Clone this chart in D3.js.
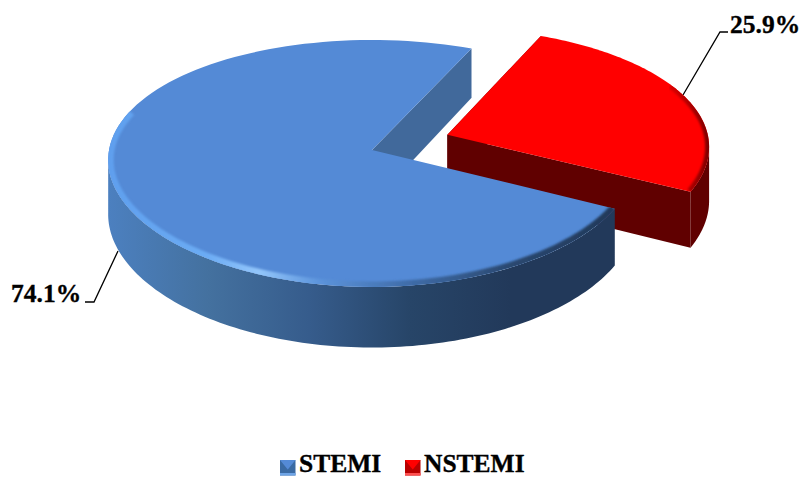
<!DOCTYPE html>
<html><head><meta charset="utf-8">
<script src="https://cdn.jsdelivr.net/npm/d3@7"></script>
<style>html,body{margin:0;padding:0;background:#fff}svg{display:block}text{font-family:"Liberation Serif",serif;font-weight:bold;fill:#000;stroke:#000;stroke-width:.35px;font-size:25.5px}</style>
</head><body><div id="c"></div>
<script>
const categories = ["STEMI", "NSTEMI"];
const values = [74.1, 25.9];
const labels = ["74.1%", "25.9%"];
const topColors = ["#548ad6", "#ff0000"];

const W = 800, H = 478;
const svg = d3.select("#c").append("svg").attr("width", W).attr("height", H);
const defs = svg.append("defs");

// Tilted-disc projection: unit-disc model coordinates to screen
const cx = 372, cy = 150, rx = 263, ry = 122, perspY = 0.109, perspX = 0.08, depth = 54, explode = 0.307, lift = 0.025;
const sx = d3.scaleLinear().domain([0, 1]).range([cx, cx + rx]);
const sy = d3.scaleLinear().domain([0, 1]).range([cy, cy + ry]);
const project = (u, v, z) => {
  const s = 1 / (1 - perspY * v);
  return [sx(u / (1 - perspX * v)), sy(v * s) + z * depth * s];
};
const pie = d3.pie().sort(null).value(d => d).startAngle(117.2 * Math.PI / 180).endAngle((117.2 + 360) * Math.PI / 180);
const arcs = pie(values);
const line = d3.line();

const geo = a => {
  const mid = (a.startAngle + a.endAngle) / 2;
  const e = a.index === 1 ? explode : 0;
  return { ox: e * Math.sin(mid), oy: -e * Math.cos(mid) - (a.index === 1 ? lift : 0) };
};
const pt = (a, ang, r, z) => {
  const g = geo(a);
  return project(g.ox + r * Math.sin(ang), g.oy - r * Math.cos(ang), z);
};
const rimPts = (a, from, to, z, r = 1) => d3.range(0, 121).map(i => pt(a, from + (to - from) * i / 120, r, z));
const topPath = a => line([pt(a, 0, 0, 0), ...rimPts(a, a.startAngle, a.endAngle, 0)]) + "Z";
// Side band: only the front-facing arc, ending at the silhouette's horizontal extreme
const bandPath = a => {
  const steps = rimPts(a, a.startAngle, a.endAngle, 0);
  const ang = i => a.startAngle + (a.endAngle - a.startAngle) * i / 120;
  let from, to;
  if (a.index === 0) { from = a.startAngle; to = ang(d3.leastIndex(steps, (p, q) => p[0] - q[0])); }
  else { from = ang(d3.greatestIndex(steps, p => p[0])); to = a.endAngle; }
  return line([...rimPts(a, from, to, 0), ...rimPts(a, to, from, 1)]) + "Z";
};
const wallPath = (a, ang) => line([pt(a, 0, 0, 0), pt(a, ang, 1, 0), pt(a, ang, 1, 1), pt(a, 0, 0, 1)]) + "Z";

// gradients
const grad = (id, x1, x2, stops) => {
  const g = defs.append("linearGradient").attr("id", id).attr("gradientUnits", "userSpaceOnUse")
    .attr("x1", x1).attr("x2", x2).attr("y1", 0).attr("y2", 0);
  stops.forEach(s => g.append("stop").attr("offset", s[0]).attr("stop-color", s[1]));
};
grad("blueSide", 107, 612, [[0, "#4c80c0"], [0.2, "#44719f"], [0.4, "#365c8c"], [0.6, "#274568"], [0.8, "#22395a"], [1, "#22395a"]]);
grad("blueRim", 107, 612, [[0, "#5f9fee"], [0.2, "#6cacf4"], [0.3, "#93c6fb"], [0.42, "#5c94dc"], [0.6, "#3f6ca8"], [0.8, "#2a4870"], [1, "#22395a"]]);
grad("redRim", 640, 710, [[0, "#ff0000"], [0.5, "#d00000"], [1, "#7a0000"]]);
const blur = defs.append("filter").attr("id", "soft").attr("x", "-5%").attr("y", "-5%").attr("width", "110%").attr("height", "110%");
blur.append("feGaussianBlur").attr("stdDeviation", 1.3);

const [blue, red] = [arcs[0], arcs[1]];
const clip = (id, a) => defs.append("clipPath").attr("id", id).append("path").attr("d", topPath(a));
clip("clipBlue", blue); clip("clipRed", red);

const g = svg.append("g");
// leader lines (behind the pie)
const leaders = [[[118, 251], [94, 302], [85, 302]], [[683, 95], [720, 32], [728, 32]]];
g.selectAll("path.leader").data(leaders).join("path").attr("class", "leader")
  .attr("d", d => line(d)).attr("fill", "none").attr("stroke", "#000").attr("stroke-width", 1.3);

// red slice
g.append("path").attr("d", bandPath(red)).attr("fill", "#600000");
g.append("path").attr("d", wallPath(red, red.startAngle)).attr("fill", "#600000");
g.append("path").attr("d", wallPath(red, red.endAngle)).attr("fill", "#600000");
g.append("path").attr("d", topPath(red)).attr("fill", topColors[1]);
g.append("g").attr("clip-path", "url(#clipRed)").append("path")
  .attr("d", line(rimPts(red, red.startAngle + 0.7, red.endAngle, 0)))
  .attr("fill", "none").attr("stroke", "url(#redRim)").attr("stroke-width", 8).attr("filter", "url(#soft)");
// blue slice
g.append("path").attr("d", bandPath(blue)).attr("fill", "url(#blueSide)");
g.append("path").attr("d", wallPath(blue, blue.endAngle)).attr("fill", "#41699b");
g.append("path").attr("d", topPath(blue)).attr("fill", topColors[0]);
g.append("g").attr("clip-path", "url(#clipBlue)").append("path")
  .attr("d", line(rimPts(blue, blue.startAngle, blue.startAngle + 172 * Math.PI / 180, 0)))
  .attr("fill", "none").attr("stroke", "url(#blueRim)").attr("stroke-width", 11).attr("filter", "url(#soft)");

// data labels
const labelPos = [[11, 302], [730, 33]];
g.selectAll("text.lab").data(labels).join("text").attr("class", "lab")
  .attr("x", (d, i) => labelPos[i][0]).attr("y", (d, i) => labelPos[i][1]).text(d => d);

// legend
const legendX = [280, 405], legendText = [299, 424];
const swatchDark = ["#3a6aa3", "#b80000"], swatchLight = ["#6ea4e6", "#ff5050"];
categories.forEach((c, i) => {
  const x = legendX[i], y = 460, s = 15.5;
  const l = svg.append("g");
  l.append("rect").attr("x", x).attr("y", y).attr("width", s).attr("height", s).attr("fill", swatchDark[i]);
  l.append("path").attr("d", line([[x, y], [x + s, y], [x + s / 2, y + s * .62]]) + "Z").attr("fill", topColors[i]);
  l.append("rect").attr("x", x).attr("y", y + s - 2.5).attr("width", s).attr("height", 2.5).attr("fill", swatchLight[i]);
  l.append("text").attr("x", legendText[i]).attr("y", 472).text(c);
});
</script></body></html>
